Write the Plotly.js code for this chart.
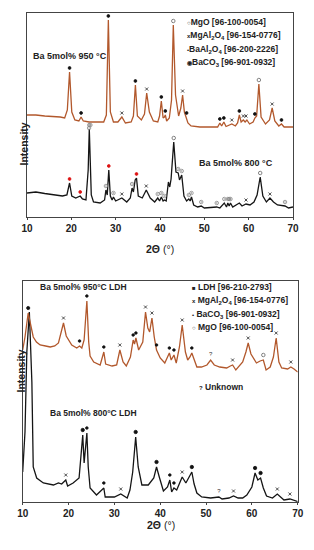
<!DOCTYPE html>
<html><head><meta charset="utf-8">
<script src="https://cdn.plot.ly/plotly-3.0.1.min.js"></script>
<style>body{margin:0;background:#fff}#c{width:314px;height:550px}</style>
</head><body><div id="c"></div>
<script>
// ---- Top panel: calcined Ba 5mol% (950 °C and 800 °C) ----
const top950_x = [10,12,14,16,17.5,18.5,19.1,19.6,20.1,20.8,21.7,22.2,22.7,24,26,27.3,27.9,28.35,28.8,29.5,30.5,31.4,32.2,33.5,34.0,34.45,34.9,35.8,36.5,37.0,37.6,38.5,39.5,39.9,40.3,40.7,41.0,41.2,41.5,42.1,42.6,43.0,43.5,44.2,44.7,45.1,45.5,45.9,46.3,47,49,51,53,53.5,53.9,54.4,54.9,56.2,57.0,57.5,57.9,58.3,58.8,59.2,59.6,60.2,61.0,61.4,61.8,62.3,62.8,63.8,64.7,65.3,65.9,66.8,67.4,68,70];
const top950_y = [102,102,101,100.5,100,99,107,145,105,97,96,100,96,95,95,95,102,197,105,95,95,100,94,95,101,132,101,97,103,124,105,96,95,101,116,99,100,102,96,99,117,192,122,101,109,122,105,100,94,91,90,90,90,94,91,95,90.5,93,91,94,102,95,97,95,97,93,95,99,101,133,100,93,97,109,96,91,93,90,90];
const top800_x = [10,12,14,16,18,19.0,19.6,20.1,21,22,22.5,23.3,23.8,24.05,24.3,24.5,25,26.5,27.5,27.8,28.1,28.45,28.8,29.2,29.5,30,31.4,32.5,33.3,33.7,34.0,34.4,34.7,35.1,36,36.9,37.8,38.8,39.5,39.9,40.3,40.7,41.0,41.4,41.9,42.2,42.5,43.1,43.6,44.1,44.4,44.9,45.4,46.0,46.5,46.8,47.1,47.6,48.5,49.3,50,52.8,53.5,54.5,55.0,55.3,55.6,55.9,56.4,57.9,58.5,59.4,60.3,61.2,61.9,62.6,63.2,64.0,64.8,65.6,66.5,68.2,69,70];
const top800_y = [24,25,23.5,22,21,22,34,21,19,21,18,17,47,88,54,22,15,14,17,27,22,47,21,17,20,16,19,15,19,29,25,37,39,21,19,27,19,15,19,16,20,16,17,16,35,30,38,75,45,44,37,42,21,16,18,16,20,12,10,11,9,10,9,14,10,14,11,14,10,14,11,13,12,15,22,40,21,15,19,15,12,11,9,10];

// phase markers (2θ positions of identified reflections)
const top950_BaAl2O4 = [19.6,22.2,28.35,34.45,40.3,41.2,46.0,53.5,54.4,57.9,61.4,67.4];
const top950_MgAl2O4 = [31.4,37.0,45.1,56.2,58.8,59.4,65.3];
const top950_MgO = [43.0,62.3];
const top950_BaCO3 = [24.0];
const top800_BaAl2O4 = [19.6,22.0,28.45,34.7];
const top800_BaCO3 = [24.05,24.3,27.8,29.5,33.7,39.5,40.3,41.0,44.1,44.9,46.5,47.1,49.3,52.8,54.5,55.3,55.6,55.9,68.2];
const top800_MgAl2O4 = [31.4,36.9,59.4,64.8];
const top800_MgO = [43.1,62.6];

// ---- Bottom panel: LDH-derived Ba 5mol% (950 °C and 800 °C) ----
const bot950_x = [10,10.5,11.2,11.8,12.3,13.0,13.8,15,16,17,17.8,18.4,18.9,19.5,20.7,21.8,22.4,22.9,23.4,24.0,24.4,24.7,25.5,26.9,27.3,27.7,28.1,29.5,30.5,31.2,31.9,32.6,33.5,34.1,34.4,34.7,35.3,36.2,36.8,37.3,37.7,38.2,38.7,39.2,40.0,41.0,41.6,42.0,42.4,43.0,43.5,44.2,44.8,45.5,46.0,46.5,46.9,47.5,48,49,50.2,51.0,51.8,53,54.5,55.3,55.8,56.5,58.0,58.7,59.2,59.8,61.0,61.8,62.5,63.1,64.0,64.7,65.3,65.9,66.5,67.8,68.5,69.2,70];
const bot950_y = [152,165,189,176,165,160,157,156,155,156,159,170,179,166,157,154,156,154,162,201,160,146,140,137,143,150,138,136,137,152,140,136,145,162,158,164,152,160,190,174,170,184,165,152,144,139,145,149,142,147,139,155,177,150,142,145,149,140,135,135,137,142,137,135,134,136,137,132,140,150,159,148,139,141,142,132,135,145,164,140,134,133,135,133,130];
const bot800_x = [10,10.5,10.9,11.45,12.0,12.3,13.05,14.5,16.7,17.8,18.5,19.0,19.4,19.8,21.0,22.3,23.1,23.4,24.0,24.3,24.7,26.1,27.4,27.7,28.0,30,31.4,32.8,33.4,34.0,34.65,35.2,36.0,37.4,38.6,39.2,39.8,40.7,41.6,42.1,42.5,43.0,43.6,44.2,44.8,45.6,46.3,46.9,47.4,48.0,49.05,51,52.8,53.5,55.0,56.0,57,58.0,58.9,60.0,60.7,61.3,61.9,62.5,63.2,64.5,65.55,67,68.3,69,70];
const bot800_y = [30,70,150,190,120,35,24,19,17,19,18,20,22,16,19,24,67,39,69,35,14,7,12,14,5,5,8,4,12,30,65,35,17,17,24,35,25,11,15,22,10,14,12,18,25,19,25,30,18,9,5,4,5,3,4,6,4,4,7,15,29,22,24,14,6,4,8,2,3,2,0.5];

const bot950_LDH = [11.2];
const bot950_BaCO3 = [22.4,24.0,27.7,34.1,34.7,39.2,42.0,43.0,46.9];
const bot950_MgAl2O4 = [18.9,31.2,36.8,38.2,44.8,55.8,59.2,65.3,68.5];
const bot950_MgO = [62.5];
const bot950_Unknown = [51.0];
const bot800_LDH = [23.1,34.65,39.2,46.9,60.7,61.9];
const bot800_BaCO3 = [24.0,27.7,42.1,43.0];
const bot800_MgAl2O4 = [19.4,31.4,44.8,56.0,65.55,68.3];
const bot800_Unknown = [52.8];

const xTicks = [10,20,30,40,50,60,70];

const ORANGE = '#b2582c', BLACK = '#151515';

function peakTop(xs, ys, x){
  let m = -1e9;
  for (let i=0;i<xs.length;i++) if (Math.abs(xs[i]-x) <= 0.3) m = Math.max(m, ys[i]);
  if (m === -1e9){ let best=0,d=1e9; xs.forEach((v,i)=>{if(Math.abs(v-x)<d){d=Math.abs(v-x);best=i;}}); m=ys[best]; }
  return m;
}
function mk(pos, xs, ys, ax, symbol, size, color, off){
  return {x: pos, y: pos.map(p=>peakTop(xs,ys,p)+off), xaxis: ax[0], yaxis: ax[1],
    mode:'markers', type:'scatter', hoverinfo:'skip', showlegend:false,
    marker:{symbol:symbol, size:size, color:color, line:{color:color, width:0.8}}};
}
function mkText(pos, xs, ys, ax, txt, off){
  return {x: pos, y: pos.map(p=>peakTop(xs,ys,p)+off), xaxis: ax[0], yaxis: ax[1],
    mode:'text', type:'scatter', text: pos.map(()=>txt), hoverinfo:'skip', showlegend:false,
    textfont:{family:'Liberation Sans, Arial', size:6, color:'#333'}};
}
const A1=['x','y'], A2=['x2','y2'];
const line = (x,y,ax,c)=>({x,y,xaxis:ax[0],yaxis:ax[1],type:'scatter',mode:'lines',showlegend:false,hoverinfo:'skip',line:{color:c,width:1.3}});

const traces = [
  line(top800_x, top800_y, A1, BLACK),
  line(top950_x, top950_y, A1, ORANGE),
  mk(top950_BaAl2O4, top950_x, top950_y, A1, 'circle', 2.8, '#111', 4),
  mk(top950_MgAl2O4, top950_x, top950_y, A1, 'x-thin', 3, '#222', 4),
  mk(top950_MgO, top950_x, top950_y, A1, 'circle-open', 3.5, '#666', 4),
  mk(top950_BaCO3, top950_x, top950_y, A1, 'circle-open-dot', 3.5, '#888', -6),
  mk(top800_BaAl2O4, top800_x, top800_y, A1, 'circle', 2.8, '#d11', 4),
  mk(top800_BaCO3, top800_x, top800_y, A1, 'circle-open-dot', 3.5, '#888', 4),
  mk(top800_MgAl2O4, top800_x, top800_y, A1, 'x-thin', 3, '#222', 4),
  mk(top800_MgO, top800_x, top800_y, A1, 'circle-open', 3.5, '#666', 4),

  line(bot800_x, bot800_y, A2, BLACK),
  line(bot950_x, bot950_y, A2, ORANGE),
  mk(bot950_LDH, bot950_x, bot950_y, A2, 'circle', 3.2, '#111', 5),
  mk(bot950_BaCO3, bot950_x, bot950_y, A2, 'circle', 2.6, '#111', 5),
  mk(bot950_MgAl2O4, bot950_x, bot950_y, A2, 'x-thin', 3, '#222', 5),
  mk(bot950_MgO, bot950_x, bot950_y, A2, 'circle-open', 3.5, '#666', 5),
  mkText(bot950_Unknown, bot950_x, bot950_y, A2, '?', 6),
  mk(bot800_LDH, bot800_x, bot800_y, A2, 'circle', 3.4, '#111', 5),
  mk(bot800_BaCO3, bot800_x, bot800_y, A2, 'circle', 2.6, '#111', 5),
  mk(bot800_MgAl2O4, bot800_x, bot800_y, A2, 'x-thin', 3, '#222', 5),
  mkText(bot800_Unknown, bot800_x, bot800_y, A2, '?', 6)
];

const F = 'Liberation Sans, Arial, sans-serif';
const ax = (dom)=>({domain:dom, range:[10,70], tickvals:xTicks, ticktext:xTicks.map(String), ticks:'outside', ticklen:2, tickcolor:'#444',
  showline:true, linecolor:'#444', linewidth:1, mirror:true, showgrid:false, zeroline:false,
  tickfont:{family:F, size:10, color:'#222', weight:'bold'}});
const ay = (dom, r)=>({domain:dom, range:r, showticklabels:false, ticks:'', showline:true, linecolor:'#444', linewidth:1, mirror:true, showgrid:false, zeroline:false});

const T = (x,y,xr,yr,txt,size)=>({x, y, xref:xr, yref:yr, text:txt, showarrow:false, xanchor:'left', yanchor:'middle',
  font:{family:F, size:size||9, color:'#222', weight:'bold'}});
const sym = s=>'<span style="font-size:6px">'+s+'</span>';
const LS = 8.5;
const ann = [
  T(10.9, 161, 'x','y','Ba 5mol% 950 °C', 9),
  T(45.6, 195, 'x','y', sym('○')+'MgO [96-100-0054]', LS),
  T(45.6, 182, 'x','y', sym('x')+'MgAl<sub>2</sub>O<sub>4</sub> [96-154-0776]', LS),
  T(45.6, 168, 'x','y', sym('•')+'BaAl<sub>2</sub>O<sub>4</sub> [96-200-2226]', LS),
  T(45.6, 155, 'x','y', sym('◉')+'BaCO<sub>3</sub> [96-901-0932]', LS),
  T(48.3, 54, 'x','y','Ba 5mol% 800 °C', 9),
  T(13.3, 215, 'x2','y2','Ba 5mol% 950°C LDH', 8.5),
  T(46.4, 215, 'x2','y2', sym('■')+' LDH [96-210-2793]', LS),
  T(46.4, 202, 'x2','y2', sym('x')+' MgAl<sub>2</sub>O<sub>4</sub> [96-154-0776]', LS),
  T(46.4, 188, 'x2','y2', sym('•')+' BaCO<sub>3</sub> [96-901-0932]', LS),
  T(46.4, 175, 'x2','y2', sym('○')+' MgO [96-100-0054]', LS),
  T(48.0, 115, 'x2','y2', sym('?')+' Unknown', LS),
  T(15.5, 89, 'x2','y2','Ba 5mol% 800°C LDH', 8.5),
  {x:15/314, y:1-121/550, xref:'paper', yref:'paper', text:'Intensity', textangle:-90, showarrow:false, font:{family:F,size:10.5,color:'#222',weight:'bold'}},
  {x:12/314, y:1-395/550, xref:'paper', yref:'paper', text:'Intensity', textangle:-90, showarrow:false, font:{family:F,size:10.5,color:'#222',weight:'bold'}},
  {x:160/314, y:1-249/550, xref:'paper', yref:'paper', text:'<b>2Θ</b> (°)', showarrow:false, font:{family:F,size:10.5,color:'#222'}},
  {x:161/314, y:1-533/550, xref:'paper', yref:'paper', text:'<b>2Θ</b> (°)', showarrow:false, font:{family:F,size:10.5,color:'#222'}}
];

const layout = {
  width:314, height:550, margin:{l:0,r:0,t:0,b:0}, paper_bgcolor:'#fff', plot_bgcolor:'#fff', showlegend:false,
  xaxis: Object.assign(ax([27/314, 293/314]), {anchor:'y'}),
  yaxis: Object.assign(ay([1-217/550, 1-13/550], [0,204]), {anchor:'x'}),
  xaxis2: Object.assign(ax([22.7/314, 297.7/314]), {anchor:'y2'}),
  yaxis2: Object.assign(ay([1-502/550, 1-281/550], [0,221]), {anchor:'x2'}),
  annotations: ann
};
Plotly.newPlot('c', traces, layout, {staticPlot:true, displayModeBar:false});
</script></body></html>
